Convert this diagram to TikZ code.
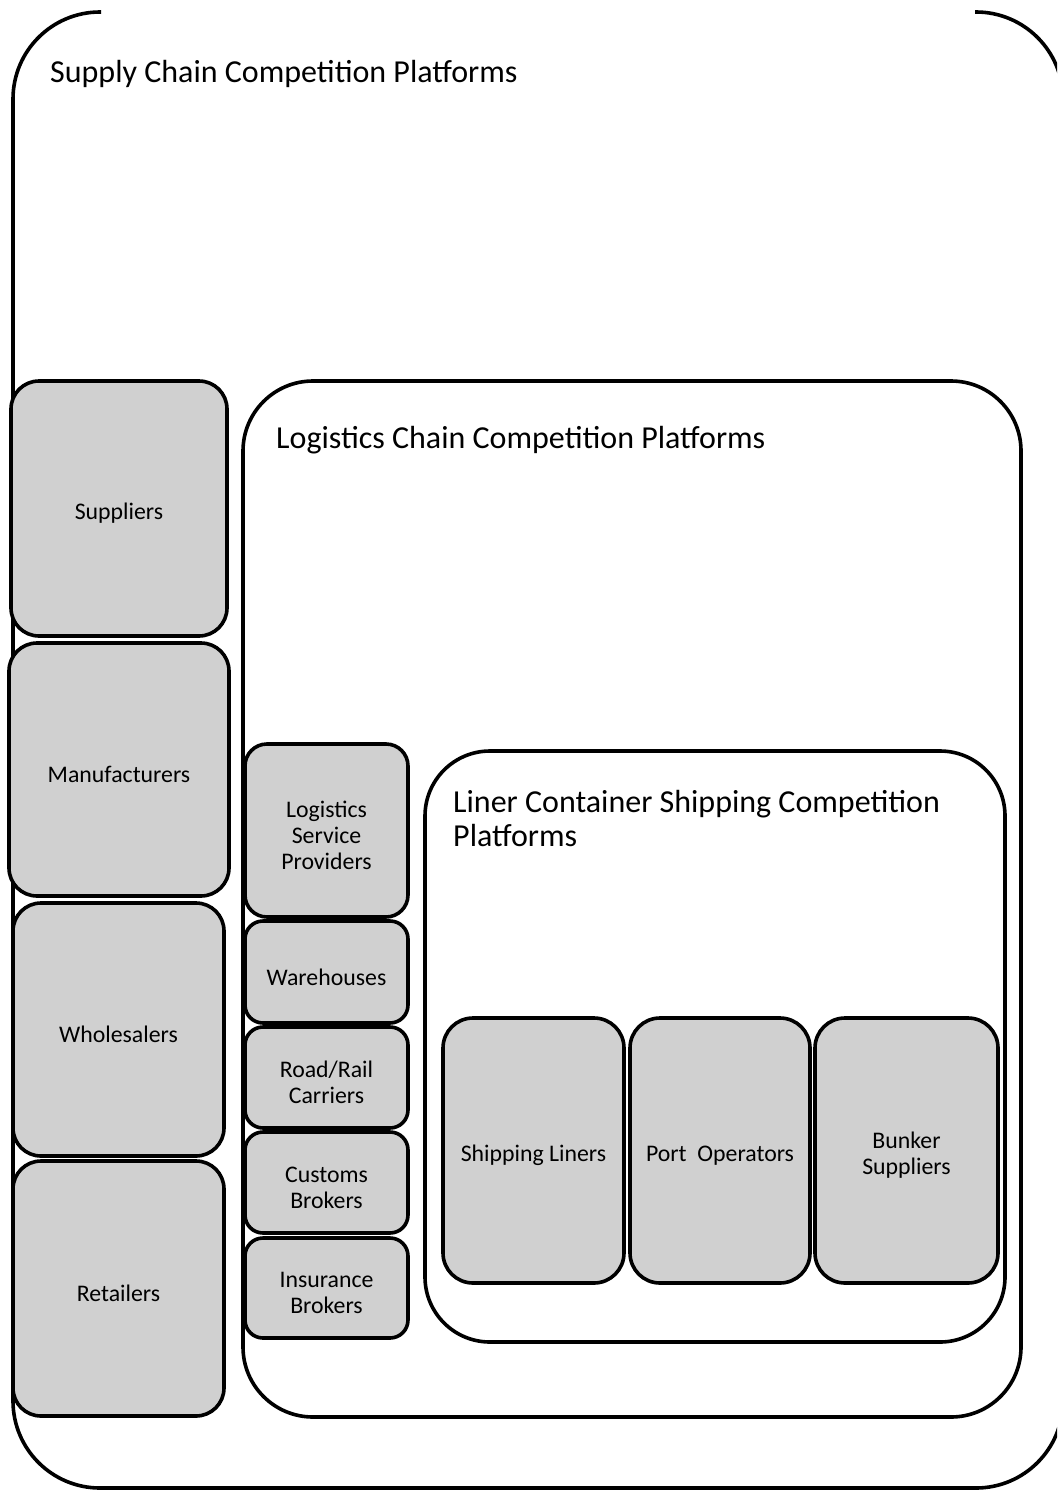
\documentclass[tikz,border=0pt]{standalone}
\usepackage{fontspec}
\setmainfont{Carlito}
\definecolor{boxgray}{RGB}{208,208,208}
\begin{document}
\begin{tikzpicture}[x=1pt,y=-1pt,
  frame/.style={line width=3.6pt,draw=black},
  lbl/.style={inner sep=0pt,align=center,yshift=-5pt,font=\fontsize{23.8}{26}\selectfont},
  item/.style={frame,fill=boxgray,rounded corners=#1,inner sep=0pt},
  item/.default=28,
  ttl/.style={anchor=west,inner sep=0pt,align=left,font=\fontsize{32}{34}\selectfont}]
\useasboundingbox (0,0) rectangle (1057,1490);
\clip (0,0) rectangle (1057,1490);
% outer frame (top edge not drawn)
\draw[frame,rounded corners=87] (101,12) -- (13,12) -- (13,1488) -- (1063,1488) -- (1063,12) -- (975,12);
\node[ttl] (sc) at (50,74) {Supply Chain Competition Platforms};
% logistics frame
\draw[frame,rounded corners=70] (243,381) rectangle (1021,1417);
\node[ttl] (lc) at (276,440) {Logistics Chain Competition Platforms};
% liner frame
\draw[frame,rounded corners=65] (425,751) rectangle (1005,1342);
\node[ttl] (ls) at (453,818) {Liner Container Shipping Competition\\Platforms};
% left column
\node[item,minimum width=216pt,minimum height=255pt,label={[lbl]center:Suppliers}] (sup) at (119,508.5) {};
\node[item,minimum width=220pt,minimum height=253pt,label={[lbl]center:Manufacturers}] (man) at (119,769.5) {};
\node[item,minimum width=211pt,minimum height=253pt,label={[lbl]center:Wholesalers}] (who) at (118.5,1029.5) {};
\node[item,minimum width=211pt,minimum height=255pt,label={[lbl]center:Retailers}] (ret) at (118.5,1288.5) {};
% middle column
\node[item=22,minimum width=163pt,minimum height=173pt,label={[lbl]center:{Logistics\\Service\\Providers}}] (lsp) at (326.5,830.5) {};
\node[item=18,minimum width=163pt,minimum height=102pt,label={[lbl]center:Warehouses}] (wh) at (326.5,972) {};
\node[item=18,minimum width=163pt,minimum height=101pt,label={[lbl]center:{Road/Rail\\Carriers}}] (rr) at (326.5,1077.5) {};
\node[item=18,minimum width=163pt,minimum height=101pt,label={[lbl]center:{Customs\\Brokers}}] (cb) at (326.5,1182.5) {};
\node[item=18,minimum width=163pt,minimum height=100pt,label={[lbl]center:{Insurance\\Brokers}}] (ib) at (326.5,1288) {};
% liner boxes
\node[item=30,minimum width=181pt,minimum height=265pt,label={[lbl]center:Shipping Liners}] (sl) at (533.5,1150.5) {};
\node[item=30,minimum width=180pt,minimum height=265pt,label={[lbl]center:Port\ \ Operators}] (po) at (720,1150.5) {};
\node[item=30,minimum width=183pt,minimum height=265pt,label={[lbl]center:{Bunker\\Suppliers}}] (bs) at (906.5,1150.5) {};
\end{tikzpicture}
\end{document}
